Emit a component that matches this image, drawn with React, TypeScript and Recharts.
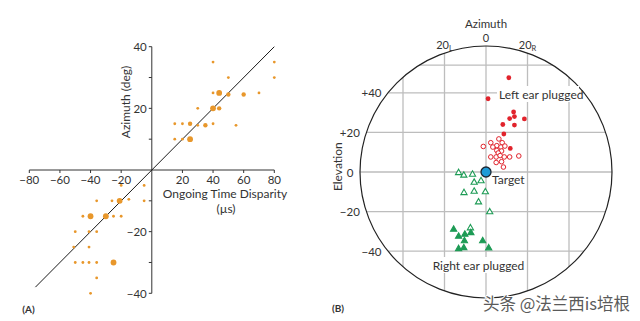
import { ReferenceLine, Scatter, ScatterChart, XAxis, YAxis } from "recharts";

const FONT = "Lato, 'Noto Sans', sans-serif";
const INK = "#333333";
const ORANGE = "#e8972b";
const RED = "#e1232c";
const GREEN = "#1d9b55";
const GRID = "#bdbdbd";

// (A) azimuth vs ongoing time disparity
const timeTicks = [-80, -60, -40, -20, 20, 40, 60, 80];
const azTicksA = [-40, -30, -20, -10, 10, 20, 30, 40];
const azLabelsA = [-40, -20, 20, 40];
const fitLine = [{ x: -76, y: -38 }, { x: 80, y: 40 }];

const smallDots = [
  { x: 40, y: 35 }, { x: 80, y: 35 }, { x: 50, y: 30 }, { x: 80, y: 30 },
  { x: 40, y: 25 }, { x: 70, y: 25 }, { x: 30, y: 20 }, { x: 15, y: 15 },
  { x: 20, y: 15 }, { x: 30, y: 14.5 }, { x: 40, y: 15 }, { x: 55, y: 14.5 },
  { x: 15, y: 10 }, { x: 20, y: 10 },
  { x: -20, y: -5 }, { x: -5, y: -5 }, { x: -36, y: -10 }, { x: -26, y: -10 },
  { x: -15, y: -9.5 }, { x: -5, y: -10 }, { x: -45, y: -15 }, { x: -25, y: -15 },
  { x: -20, y: -15 }, { x: -50, y: -20 }, { x: -41, y: -20 }, { x: -36, y: -20 },
  { x: -51, y: -25 }, { x: -41, y: -25 }, { x: -50, y: -30 }, { x: -45, y: -30 },
  { x: -41, y: -30 }, { x: -36, y: -30 }, { x: -36, y: -35 }, { x: -40, y: -40 },
];
const midDots = [
  { x: 50, y: 24.5 }, { x: 60, y: 24.5 }, { x: 44, y: 20 }, { x: 25, y: 15 }, { x: 35, y: 14.5 },
];
const bigDots = [
  { x: 44, y: 25 }, { x: 40, y: 20 }, { x: 25, y: 10 }, { x: -21, y: -10 },
  { x: -40, y: -15 }, { x: -30, y: -15 }, { x: -25, y: -30 },
];

// (B) localization with one ear plugged
const azGrid = [-40, -20, 0, 20, 40];
const elGrid = [54, 40, 20, 0, -20, -40];
const azTicksB = [
  { v: -20, t: "20", sub: "L" },
  { v: 0, t: "0", sub: "" },
  { v: 20, t: "20", sub: "R" },
];
const elTicksB = [
  { v: 40, t: "+40" },
  { v: 20, t: "+20" },
  { v: 0, t: "0" },
  { v: -20, t: "\u221220" },
  { v: -40, t: "\u221240" },
];
const leftFilled = [
  { x: 11, y: 47.6 }, { x: 1, y: 37 }, { x: 13.3, y: 30.3 }, { x: 11.4, y: 27 },
  { x: 13.7, y: 28 }, { x: 18.5, y: 26.8 }, { x: 8.1, y: 24 }, { x: 13.7, y: 23.7 },
  { x: 8.6, y: 19.2 }, { x: 11.7, y: 11.9 },
];
const leftOpen = [
  { x: -1.3, y: 12.9 }, { x: 2.3, y: 14.8 }, { x: 6.2, y: 16.7 }, { x: 7.8, y: 14.8 },
  { x: 5.2, y: 13.3 }, { x: 3.3, y: 12.6 }, { x: 7.2, y: 12.6 }, { x: 9.1, y: 13.1 },
  { x: 5.2, y: 10.9 }, { x: 7.5, y: 10.6 }, { x: 5.9, y: 9.6 }, { x: 2.3, y: 7.6 },
  { x: 4.9, y: 7.6 }, { x: 6.8, y: 8.3 }, { x: 8.8, y: 7.6 }, { x: 11.4, y: 7.6 },
  { x: 15.8, y: 8.1 }, { x: 4.9, y: 4.8 }, { x: 7.5, y: 5.2 }, { x: 8.4, y: 2.5 },
];
const rightOpen = [
  { x: -13.2, y: -0.2 }, { x: -10.7, y: -1.5 }, { x: -6.5, y: -1 }, { x: -5.7, y: -5.1 },
  { x: -2.4, y: -4.3 }, { x: -10.6, y: -10.3 }, { x: -5.7, y: -9.6 }, { x: -0.3, y: -9.9 },
  { x: -3.6, y: -15 }, { x: 1.8, y: -20 }, { x: -7.5, y: -28.1 },
];
const rightFilled = [
  { x: -15.6, y: -28.8 }, { x: -13.2, y: -32.3 }, { x: -10.2, y: -31.3 }, { x: -7.3, y: -30.5 },
  { x: -10.4, y: -34.6 }, { x: -1.6, y: -34.6 }, { x: -13.2, y: -38.6 }, { x: -10.7, y: -38.1 },
  { x: 1.3, y: -38.2 },
];
const target = [{ x: 0, y: 0 }];

// panel B geometry (px per degree, circle radius in px)
const PX_X = 2.075;
const PX_Y = 1.98;
const R = 126;
const CX_B = 166;
const CY_B = 172;
const marginB = { top: 33.4, right: 8.75, bottom: 10.4, left: 20.75 };
const marginA = { top: 46.7, right: 45.7, bottom: 27.7, left: 29.3 };

const fmt = (v: number) => (v < 0 ? "\u2212" + Math.abs(v) : String(v));

const txt = { fontFamily: FONT, fill: INK };

const XTickA = (p: any) => (
  <g>
    <line x1={p.cx} x2={p.cx} y1={p.cy} y2={p.cy + 3} stroke={INK} />
    <text x={p.cx} y={p.cy + 9} textAnchor="middle" dominantBaseline="central" fontSize={11.5} {...txt}>
      {fmt(p.payload.x)}
    </text>
  </g>
);

const YTickA = (p: any) => (
  <g>
    <line x1={p.cx - 3} x2={p.cx} y1={p.cy} y2={p.cy} stroke={INK} />
    {azLabelsA.includes(p.payload.y) && (
      <text x={p.cx - 5} y={p.cy} textAnchor="end" dominantBaseline="central" fontSize={11.5} {...txt}>
        {fmt(p.payload.y)}
      </text>
    )}
  </g>
);

const dot = (r: number) => (p: any) => <circle cx={p.cx} cy={p.cy} r={r} fill={ORANGE} />;

const FilledCircle = (p: any) => <circle cx={p.cx} cy={p.cy} r={2.4} fill={RED} />;
const OpenCircle = (p: any) => (
  <circle cx={p.cx} cy={p.cy} r={2.3} fill="#fff" stroke={RED} strokeWidth={1} />
);
const tri = (filled: boolean) => (p: any) => (
  <path
    d={`M${p.cx},${p.cy - 3.2}L${p.cx + 3.1},${p.cy + 2.2}L${p.cx - 3.1},${p.cy + 2.2}Z`}
    fill={filled ? GREEN : "#fff"}
    stroke={GREEN}
    strokeWidth={1.1}
  />
);
const Target = (p: any) => (
  <circle cx={p.cx} cy={p.cy} r={5} fill="#1f9bd7" stroke="#1b2733" strokeWidth={1.3} />
);
const Frame = (p: any) => <circle cx={p.cx} cy={p.cy} r={R} fill="none" stroke="#222" strokeWidth={1.2} />;

const AzTickB = (p: any) => {
  const dx = p.cx - CX_B;
  const y = CY_B - Math.sqrt(R * R - dx * dx) - 8.5;
  const t = p.payload.t;
  return (
    <text x={p.cx} y={y} textAnchor="middle" dominantBaseline="central" fontSize={11} {...txt}>
      {t}
      {t !== "0" && (
        <tspan fontSize={7.5} dy={3}>
          {p.payload.sub}
        </tspan>
      )}
    </text>
  );
};

const ElTickB = (p: any) => {
  const dy = p.cy - CY_B;
  const x = p.cx - Math.sqrt(R * R - dy * dy) - 6.5;
  return (
    <text x={x} y={p.cy} textAnchor="end" dominantBaseline="central" fontSize={11.5} {...txt}>
      {p.payload.t}
    </text>
  );
};

function PanelA() {
  return (
    <ScatterChart width={320} height={321} margin={marginA}>
      <XAxis type="number" dataKey="x" domain={[-80, 80]} hide />
      <YAxis type="number" dataKey="y" domain={[-40, 40]} hide />
      <ReferenceLine x={0} stroke={INK} strokeWidth={1} />
      <ReferenceLine y={0} stroke={INK} strokeWidth={1} />
      <ReferenceLine segment={fitLine} stroke="#1a1a1a" strokeWidth={1} ifOverflow="visible" />
      <Scatter data={timeTicks.map((v) => ({ x: v, y: 0 }))} shape={XTickA} isAnimationActive={false} />
      <Scatter data={azTicksA.map((v) => ({ x: 0, y: v }))} shape={YTickA} isAnimationActive={false} />
      <Scatter data={smallDots} shape={dot(1.4)} isAnimationActive={false} />
      <Scatter data={midDots} shape={dot(2.2)} isAnimationActive={false} />
      <Scatter data={bigDots} shape={dot(2.9)} isAnimationActive={false} />
    </ScatterChart>
  );
}

function PanelB() {
  return (
    <ScatterChart width={320} height={321} margin={marginB}>
      <XAxis type="number" dataKey="x" domain={[-70, 70]} hide />
      <YAxis type="number" dataKey="y" domain={[-70, 70]} hide />
      {azGrid.map((a) => {
        const h = Math.sqrt(R * R - (a * PX_X) ** 2) / PX_Y;
        return (
          <ReferenceLine
            key={"v" + a}
            segment={[{ x: a, y: -h }, { x: a, y: h }]}
            stroke={GRID}
            strokeWidth={1.3}
            ifOverflow="visible"
          />
        );
      })}
      {elGrid.map((e) => {
        const w = Math.sqrt(R * R - (e * PX_Y) ** 2) / PX_X;
        return (
          <ReferenceLine
            key={"h" + e}
            segment={[{ x: -w, y: e }, { x: w, y: e }]}
            stroke={GRID}
            strokeWidth={1.3}
            ifOverflow="visible"
          />
        );
      })}
      <Scatter data={target} shape={Frame} isAnimationActive={false} />
      <Scatter data={azTicksB.map((d) => ({ x: d.v, y: 0, t: d.t, sub: d.sub }))} shape={AzTickB} isAnimationActive={false} />
      <Scatter data={elTicksB.map((d) => ({ x: 0, y: d.v, t: d.t }))} shape={ElTickB} isAnimationActive={false} />
      <Scatter data={leftOpen} shape={OpenCircle} isAnimationActive={false} />
      <Scatter data={leftFilled} shape={FilledCircle} isAnimationActive={false} />
      <Scatter data={rightOpen} shape={tri(false)} isAnimationActive={false} />
      <Scatter data={rightFilled} shape={tri(true)} isAnimationActive={false} />
      <Scatter data={target} shape={Target} isAnimationActive={false} />
    </ScatterChart>
  );
}

export default function App() {
  return (
    <div style={{ position: "absolute", left: 0, top: 0, width: 640, height: 321, background: "#fff" }}>
      <div style={{ position: "absolute", left: 0, top: 0 }}>
        <PanelA />
      </div>
      <div style={{ position: "absolute", left: 320, top: 0 }}>
        <PanelB />
      </div>
      <svg width={640} height={321} style={{ position: "absolute", left: 0, top: 0, pointerEvents: "none" }}>
        <g fontFamily={FONT} fill={INK} fontSize={12}>
          <text x={125} y={102} textAnchor="middle" dominantBaseline="central" transform="rotate(-90 125 102)">
            Azimuth (deg)
          </text>
          <text x={225} y={193} textAnchor="middle" dominantBaseline="central">
            Ongoing Time Disparity
          </text>
          <text x={226} y={208.5} textAnchor="middle" dominantBaseline="central">
            (µs)
          </text>
          <text x={28.5} y={309} textAnchor="middle" dominantBaseline="central" fontSize={10} fontWeight="bold">
            (A)
          </text>

          <text x={486} y={23.5} textAnchor="middle" dominantBaseline="central" fontSize={11.5}>
            Azimuth
          </text>
          <text x={337.3} y={166.7} textAnchor="middle" dominantBaseline="central" transform="rotate(-90 337.3 166.7)">
            Elevation
          </text>
          <rect x={497} y={86} width={82} height={16} fill="#fff" />
          <text x={499} y={94} dominantBaseline="central">
            Left ear plugged
          </text>
          <text x={492} y={179} dominantBaseline="central">
            Target
          </text>
          <rect x={434} y={257} width={89} height={16} fill="#fff" />
          <text x={478.5} y={265} textAnchor="middle" dominantBaseline="central">
            Right ear plugged
          </text>
          <text x={338} y={308} textAnchor="middle" dominantBaseline="central" fontSize={10} fontWeight="bold">
            (B)
          </text>
        </g>
        <text
          x={483}
          y={303}
          dominantBaseline="central"
          fontFamily="'Noto Sans CJK SC', sans-serif"
          fontSize={16.5}
          fill="#5a5a5a"
          stroke="#fff"
          strokeWidth={2}
          paintOrder="stroke"
        >
          头条 @法兰西is培根
        </text>
      </svg>
    </div>
  );
}
